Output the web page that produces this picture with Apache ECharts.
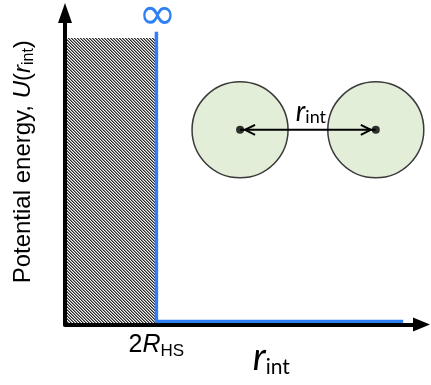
<!DOCTYPE html>
<html>
<head>
<meta charset="utf-8">
<script src="https://cdn.jsdelivr.net/npm/echarts@6/dist/echarts.min.js"></script>
<style>
  html, body { margin: 0; padding: 0; background: #fff; }
  #chart { width: 431px; height: 385px; }
</style>
</head>
<body>
<div id="chart"></div>
<script>
// Hard-sphere pair potential: infinite inside contact distance 2R_HS, zero outside.
const rValues = [2, 2, 7.4];          // separation r_int (units of R_HS)
const uValues = [9.4, 0.1, 0.1];      // U(r_int), top value stands for "infinity"
const coreRange = [0, 2];             // excluded (overlapping) region
const coreTop = 9.2;
const sphereX = [3.83, 6.8];          // the two spheres in the inset sketch
const sphereY = [6.25, 6.25];
const xTickValues = [2];
const xTickLabels = ['{n|2}{i|R}{sub|HS}'];

const BLUE = '#2f80f7';

// Fine diagonal hatch used for the forbidden region
function makeHatch() {
  const shades = ['#262626', '#8c8c8c', '#f6f6f6'];
  const c = document.createElement('canvas');
  c.width = 3; c.height = 3;
  const ctx = c.getContext('2d');
  for (let x = 0; x < 3; x++) {
    for (let y = 0; y < 3; y++) {
      ctx.fillStyle = shades[(x - y + 3) % 3];
      ctx.fillRect(x, y, 1, 1);
    }
  }
  return c;
}
const hatch = { image: makeHatch(), repeat: 'repeat' };

const chart = echarts.init(document.getElementById('chart'));

chart.setOption({
  animation: false,
  grid: { left: 65, right: 9.5, top: 13, bottom: 60.5, outerBoundsMode: 'none', containLabel: false },
  xAxis: {
    type: 'value', min: 0, max: 7.8, z: 5,
    axisLine: { show: true, lineStyle: { color: '#000', width: 4 },
      symbol: ['none', 'triangle'], symbolSize: [14, 17] },
    axisTick: { show: false },
    splitLine: { show: false },
    axisLabel: {
      customValues: xTickValues,
      margin: 7,
      formatter: function (v) {
        const i = xTickValues.indexOf(v);
        return i >= 0 ? xTickLabels[i] : '';
      },
      rich: {
        n: { fontFamily: 'Liberation Sans', fontSize: 25, color: '#000', lineHeight: 28 },
        i: { fontFamily: 'Liberation Sans', fontSize: 25, fontStyle: 'italic', color: '#000', lineHeight: 28 },
        sub: { fontFamily: 'Liberation Sans', fontSize: 17, color: '#000', lineHeight: 17, verticalAlign: 'bottom' }
      }
    },
    name: '{r|r}{s|int}',
    nameLocation: 'middle',
    nameGap: 13,
    nameMoveOverlap: false,
    nameTextStyle: {
      padding: [0, 0, 0, 56],
      rich: {
        r: { fontFamily: 'Lato', fontSize: 38, fontStyle: 'italic', color: '#000', lineHeight: 40 },
        s: { fontFamily: 'Lato', fontSize: 21, color: '#000', lineHeight: 20, verticalAlign: 'bottom' }
      }
    }
  },
  yAxis: {
    type: 'value', min: 0, max: 10, z: 5,
    axisLine: { show: true, lineStyle: { color: '#000', width: 4 },
      symbol: ['none', 'triangle'], symbolSize: [14, 20] },
    axisTick: { show: false },
    splitLine: { show: false },
    axisLabel: { show: false },
    name: 'Potential energy, {i|U}({i|r}{sub|int})',
    nameLocation: 'middle',
    nameGap: 28,
    nameMoveOverlap: false,
    nameTextStyle: {
      fontFamily: 'Liberation Sans', fontSize: 24, color: '#000', lineHeight: 28,
      padding: [0, 0, 0, 14],
      rich: {
        i: { fontFamily: 'Liberation Sans', fontSize: 24, fontStyle: 'italic', color: '#000', lineHeight: 28 },
        sub: { fontFamily: 'Liberation Sans', fontSize: 16, color: '#000', lineHeight: 16, verticalAlign: 'bottom' }
      }
    }
  },
  series: [
    {
      // hatched excluded-volume region
      type: 'custom',
      z: 1,
      data: [[coreRange[0], coreRange[1], 0, coreTop]],
      renderItem: function (params, api) {
        const p0 = api.coord([api.value(0), api.value(3)]);
        const p1 = api.coord([api.value(1), api.value(2)]);
        return {
          type: 'rect',
          shape: { x: p0[0], y: p0[1], width: p1[0] - p0[0], height: p1[1] - p0[1] },
          style: { fill: hatch }
        };
      }
    },
    {
      // the potential itself
      type: 'line',
      z: 3,
      data: rValues.map((r, i) => [r, uValues[i]]),
      showSymbol: false,
      symbol: 'none',
      lineStyle: { color: BLUE, width: 3.5 },
      label: { show: false },
      markPoint: {
        symbol: 'circle', symbolSize: 0,
        data: [{ coord: [rValues[0], uValues[0]], value: '∞' }],
        label: {
          show: true, formatter: '∞', position: 'top', distance: 0, offset: [1, 8],
          color: BLUE, fontFamily: 'DejaVu Sans', fontSize: 46, lineHeight: 46
        }
      }
    },
    {
      // spheres of the inset sketch
      type: 'scatter',
      z: 4,
      data: sphereX.map((x, i) => [x, sphereY[i]]),
      symbolSize: 96,
      itemStyle: { color: '#e2eed8', borderColor: '#3a3a3a', borderWidth: 1.5, opacity: 1 }
    },
    {
      // centre-to-centre distance arrow
      type: 'custom',
      z: 6,
      data: [[sphereX[0], sphereX[1], sphereY[0]]],
      renderItem: function (params, api) {
        const a = api.coord([api.value(0), api.value(2)]);
        const b = api.coord([api.value(1), api.value(2)]);
        const ls = { stroke: '#000', lineWidth: 2, fill: 'none' };
        return {
          type: 'group',
          children: [
            { type: 'line', shape: { x1: a[0], y1: a[1], x2: b[0], y2: b[1] }, style: ls },
            { type: 'polyline', shape: { points: [[a[0] + 15, a[1] - 5], [a[0] + 5, a[1]], [a[0] + 15, a[1] + 5]] }, style: ls },
            { type: 'polyline', shape: { points: [[b[0] - 15, b[1] - 5], [b[0] - 5, b[1]], [b[0] - 15, b[1] + 5]] }, style: ls },
            {
              type: 'text',
              style: {
                x: (a[0] + b[0]) / 2 + 3, y: a[1] - 4,
                text: '{r|r}{s|int}',
                align: 'center', verticalAlign: 'bottom',
                rich: {
                  r: { fontFamily: 'Lato', fontSize: 28, fontStyle: 'italic', fill: '#000', lineHeight: 28 },
                  s: { fontFamily: 'Lato', fontSize: 18, fill: '#000', lineHeight: 18, verticalAlign: 'bottom' }
                }
              }
            }
          ]
        };
      }
    },
    {
      // sphere centres
      type: 'scatter',
      z: 7,
      data: sphereX.map((x, i) => [x, sphereY[i]]),
      symbolSize: 8,
      itemStyle: { color: '#000' }
    }
  ]
});
</script>
</body>
</html>
